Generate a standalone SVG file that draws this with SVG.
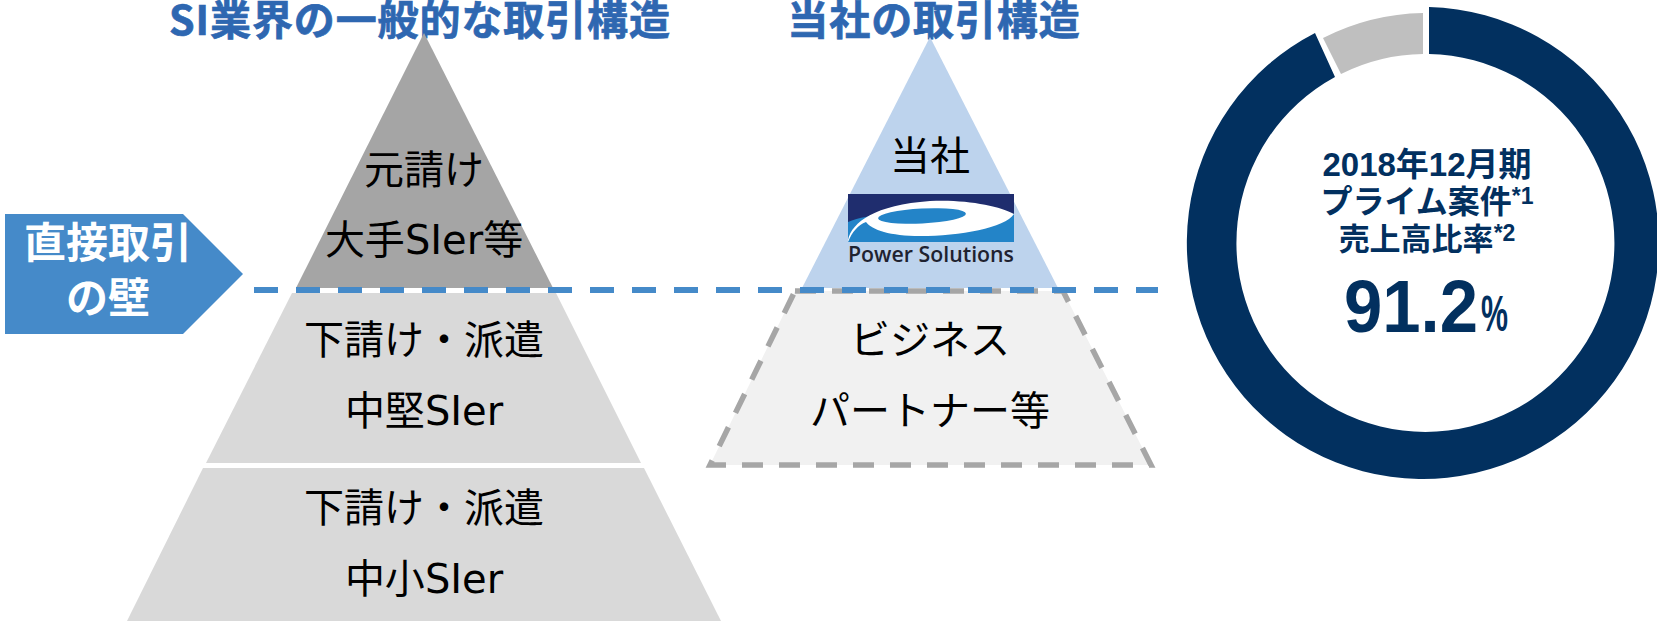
<svg xmlns="http://www.w3.org/2000/svg" width="1657" height="621" viewBox="0 0 1657 621">
<style>
.t{font-family:"Noto Sans CJK JP","Noto Sans",sans-serif;font-size:40px;fill:#000;text-anchor:middle}
.l{font-family:"DejaVu Sans","Noto Sans",sans-serif}
.h{font-family:"Noto Sans CJK JP","Liberation Sans",sans-serif;font-size:41px;letter-spacing:.9px;font-weight:700;fill:#2e67b1;stroke:#2e67b1;stroke-width:.7px;text-anchor:middle}
.w{font-family:"Noto Sans CJK JP",sans-serif;font-size:42px;font-weight:700;fill:#fff;text-anchor:middle}
.n{font-family:"Liberation Sans","Noto Sans CJK JP",sans-serif;font-weight:700;fill:#02305f;text-anchor:middle}
</style>
<rect width="1657" height="621" fill="#fff"/>
<g id="title-general"><text class="h" x="420" y="35">SI業界の一般的な取引構造</text></g>
<g id="title-company"><text class="h" x="934" y="35">当社の取引構造</text></g>
<g id="tier-prime"><path d="M424 33L553 288H296Z" fill="#a5a5a5"/>
<text class="t" x="424" y="184">元請け</text><text class="t" x="424" y="254">大手<tspan class="l">SIer</tspan>等</text></g>
<g id="tier-mid"><path d="M292 293H556L641 463H206Z" fill="#d9d9d9"/>
<text class="t" x="424" y="354">下請け・派遣</text><text class="t" x="424" y="425">中堅<tspan class="l">SIer</tspan></text></g>
<g id="tier-small"><path d="M203 468H644L721 621H127Z" fill="#d9d9d9"/>
<text class="t" x="424" y="522">下請け・派遣</text><text class="t" x="424" y="593">中小<tspan class="l">SIer</tspan></text></g>
<g id="arrow-wall"><path d="M5 214H183L243 274L183 334H5Z" fill="#458ac9"/>
<text class="w" x="108" y="258">直接取引</text><text class="w" x="108" y="313">の壁</text></g>
<g id="tier-company"><path d="M930 37L1058 288H802Z" fill="#bdd3ed"/>
<text class="t" x="930" y="170">当社</text></g>
<g id="logo">
<rect x="848" y="194" width="166" height="48" fill="#1f2d6e"/>
<path d="M848 242V222C880 208 980 208 1014 214V242Z" fill="#2384c8"/>
<path d="M848 240C852 222 875 205 930 201C965 199 1000 206 1014 214C1005 228 960 236 920 236C890 236 872 230 866 222C858 225 852 232 848 242Z" fill="#fff"/>
<ellipse cx="922" cy="216" rx="44" ry="7.5" transform="rotate(-3 922 216)" fill="#2384c8"/>
<text x="931" y="262" font-family="Open Sans,Liberation Sans,sans-serif" font-size="21" font-weight="600" fill="#1f2230" text-anchor="middle" textLength="166" lengthAdjust="spacingAndGlyphs">Power Solutions</text>
</g>
<g id="tier-partner"><path d="M795 291H1063L1151 465H710Z" fill="#f1f1f1" stroke="#a6a6a6" stroke-width="5.5" stroke-dasharray="21 16"/>
<text class="t" x="930" y="354">ビジネス</text><text class="t" x="930" y="425">パートナー等</text></g>
<g id="connectors"><path d="M254 290H1158" fill="none" stroke="#458ac9" stroke-width="6" stroke-dasharray="24 18"/></g>
<g id="donut">
<path d="M1429 7A236 236 0 1 1 1315 33L1335 77A189 189 0 1 0 1429 54Z" fill="#02305f"/>
<path d="M1423 13V54A189 189 0 0 0 1341 74L1323 38A230 230 0 0 1 1423 13Z" fill="#bfbfbf"/>
<text class="n" x="1427" y="176" font-size="33">2018年12月期</text>
<text class="n" x="1427" y="213" font-size="32">プライム案件<tspan font-size="23" dy="-9">*1</tspan></text>
<text class="n" x="1427" y="250" font-size="31">売上高比率<tspan font-size="23" dy="-9">*2</tspan></text>
<text class="n" x="1344" y="332" font-size="74" style="text-anchor:start" textLength="134" lengthAdjust="spacingAndGlyphs">91.2</text>
<text class="n" x="1481" y="331" font-size="50" style="text-anchor:start" textLength="27" lengthAdjust="spacingAndGlyphs">%</text>
</g>
</svg>
